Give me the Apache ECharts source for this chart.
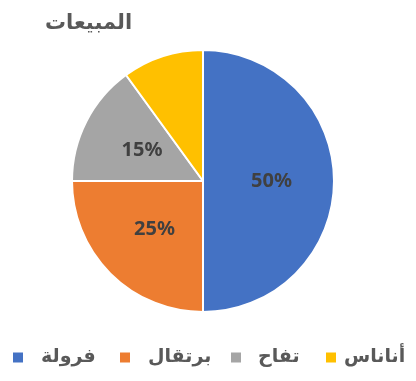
<!DOCTYPE html>
<html><head><meta charset="utf-8">
<script src="https://cdn.jsdelivr.net/npm/echarts@6/dist/echarts.min.js"></script>
<style>html,body{margin:0;padding:0;background:#fff}#c{width:416px;height:381px}</style>
</head><body><div id="c"></div>
<script>
const titleText = 'المبيعات';
const categories = ['فرولة', 'برتقال', 'تفاح', 'أناناس'];
const values = [50, 25, 15, 10];
const colors = ['#4472C4', '#ED7D31', '#A5A5A5', '#FFC000'];
const showLabel = [true, true, true, false];
const legendLeft = [11, 118, 229, 324];
const legendTextPad = [12, 12, 11, 2];

const arabicFont = {fontFamily: 'DejaVu Sans', fontWeight: 'bold', color: '#595959'};

const chart = echarts.init(document.getElementById('c'), null, {renderer: 'canvas'});
chart.setOption({
  animation: false,
  title: {
    text: titleText, left: 40, top: 8,
    textStyle: Object.assign({fontSize: 21}, arabicFont)
  },
  legend: categories.map((n, i) => ({
    left: legendLeft[i], top: 348, padding: 0,
    itemWidth: 12, itemHeight: 12, icon: 'rect',
    data: [n],
    textStyle: Object.assign({fontSize: 19, padding: [0, 0, 0, legendTextPad[i]]}, arabicFont)
  })),
  series: [{
    type: 'pie',
    center: [203, 181], radius: 131,
    startAngle: 90, clockwise: true,
    itemStyle: {borderColor: '#fff', borderWidth: 2},
    label: {
      show: true, position: 'inside', formatter: '{d}%',
      fontFamily: 'Noto Sans', fontWeight: 'bold', fontSize: 20, color: '#404040'
    },
    labelLine: {show: false},
    data: categories.map((n, i) => ({
      name: n, value: values[i], itemStyle: {color: colors[i]},
      label: {show: showLabel[i]}
    }))
  }]
});
</script></body></html>
